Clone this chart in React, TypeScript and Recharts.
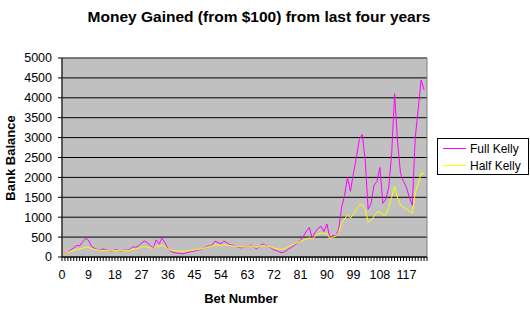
import { LineChart, Line, XAxis, YAxis, CartesianGrid, ReferenceArea } from "recharts";

const fullKelly = [
  100, 95, 110, 180, 230, 290, 280, 380, 470, 420,
  270, 220, 190, 180, 200, 180, 160, 140, 190, 170,
  140, 180, 170, 190, 260, 240, 280, 350, 400, 360,
  290, 220, 430, 330, 470, 360, 200, 140, 110, 100,
  90, 80, 100, 120, 140, 150, 170, 180, 220, 260,
  280, 300, 400, 360, 330, 400, 360, 310, 300, 270,
  240, 230, 270, 260, 300, 260, 210, 250, 330, 300,
  270, 230, 180, 160, 120, 110, 150, 200, 250, 300,
  350, 420, 520, 650, 740, 480, 620, 720, 770, 640,
  830, 470, 550, 520, 700, 1250, 1550, 2000, 1650, 2100,
  2500, 2950, 3080, 2450, 1200, 1350, 1800, 1900, 2250, 1350,
  1450, 1750, 2600, 4100, 2900, 2100, 1900, 1750, 1500, 1300,
  3000, 3700, 4450, 4200,
];

const halfKelly = [
  100, 95, 110, 140, 160, 190, 200, 220, 250, 240,
  210, 190, 180, 170, 160, 170, 160, 150, 170, 160,
  150, 170, 160, 170, 200, 200, 220, 250, 260, 250,
  230, 220, 280, 260, 300, 260, 200, 170, 160, 150,
  150, 140, 150, 160, 170, 180, 190, 200, 220, 240,
  260, 280, 310, 300, 290, 310, 300, 290, 280, 270,
  260, 250, 270, 270, 280, 260, 240, 260, 290, 280,
  270, 250, 220, 210, 190, 200, 230, 270, 300, 330,
  360, 390, 420, 450, 480, 450, 520, 580, 600, 580,
  600, 460, 500, 520, 620, 850, 950, 1060, 980, 1080,
  1200, 1300, 1320, 1200, 880, 920, 1020, 1120, 1150, 1050,
  1050, 1250, 1500, 1780, 1480, 1300, 1250, 1210, 1150, 1100,
  1600, 1850, 2100, 2100,
];

const yTicks = [0, 500, 1000, 1500, 2000, 2500, 3000, 3500, 4000, 4500, 5000];
const xLabels = [0, 9, 18, 27, 36, 45, 54, 63, 72, 81, 90, 99, 108, 117];
const xTicks = Array.from({ length: 125 }, (_, i) => i);

const legendItems = [
  { name: "Full Kelly", color: "#ff00ff" },
  { name: "Half Kelly", color: "#ffff00" },
];

const data = fullKelly.map((v, i) => ({ bet: i, full: v, half: halfKelly[i] }));

const FONT = "'Liberation Sans', Arial, sans-serif";

function LegendBox() {
  return (
    <div
      style={{
        position: "absolute",
        left: 437,
        top: 138,
        width: 92,
        height: 37,
        border: "1px solid #000",
        background: "#fff",
        boxSizing: "border-box",
        paddingTop: 1,
      }}
    >
      {legendItems.map((it) => (
        <div key={it.name} style={{ display: "flex", alignItems: "center", height: 17 }}>
          <span style={{ width: 23, height: 1, background: it.color, marginLeft: 5, marginRight: 4 }} />
          <span style={{ fontSize: 12, color: "#000", fontFamily: FONT }}>{it.name}</span>
        </div>
      ))}
    </div>
  );
}

export default function App() {
  return (
    <div
      style={{
        position: "absolute",
        left: 0,
        top: 0,
        width: 530,
        height: 311,
        background: "#fff",
        fontFamily: FONT,
      }}
    >
      <div
        style={{
          position: "absolute",
          left: 0,
          width: 518,
          top: 8,
          textAlign: "center",
          fontSize: 15.5,
          fontWeight: 700,
          color: "#000",
        }}
      >
        Money Gained (from $100) from last four years
      </div>
      <div
        style={{
          position: "absolute",
          left: 10,
          top: 158,
          transform: "translate(-50%, -50%) rotate(-90deg)",
          fontSize: 13,
          fontWeight: 700,
          whiteSpace: "nowrap",
        }}
      >
        Bank Balance
      </div>
      <div
        style={{
          position: "absolute",
          left: 241,
          top: 298,
          transform: "translate(-50%, -50%)",
          fontSize: 13,
          fontWeight: 700,
          whiteSpace: "nowrap",
        }}
      >
        Bet Number
      </div>
      <LineChart
        width={530}
        height={311}
        data={data}
        margin={{ top: 58, right: 103, bottom: 0, left: 0 }}
      >
        <CartesianGrid fill="#c0c0c0" stroke="#000" vertical={false} />
        <ReferenceArea x1={0} x2={124} y1={0} y2={5000} fill="none" stroke="#808080" strokeWidth={1} />
        <XAxis
          dataKey="bet"
          type="number"
          domain={[0, 124]}
          ticks={xTicks}
          interval={0}
          height={54}
          tickSize={4}
          tickMargin={9}
          tickFormatter={(v: number) => (xLabels.includes(v) ? String(v) : "")}
          tick={{ fill: "#000", fontSize: 12.5, fontFamily: FONT }}
          axisLine={{ stroke: "#000" }}
          tickLine={{ stroke: "#000" }}
        />
        <YAxis
          type="number"
          domain={[0, 5000]}
          ticks={yTicks}
          interval={0}
          width={62}
          tickSize={4}
          tickMargin={6}
          tick={{ fill: "#000", fontSize: 12.5, fontFamily: FONT }}
          axisLine={{ stroke: "#000" }}
          tickLine={{ stroke: "#000" }}
        />
        <Line
          type="linear"
          dataKey="full"
          name="Full Kelly"
          stroke="#ff00ff"
          strokeWidth={1}
          dot={false}
          isAnimationActive={false}
        />
        <Line
          type="linear"
          dataKey="half"
          name="Half Kelly"
          stroke="#ffff00"
          strokeWidth={1}
          dot={false}
          isAnimationActive={false}
        />
      </LineChart>
      <LegendBox />
    </div>
  );
}
